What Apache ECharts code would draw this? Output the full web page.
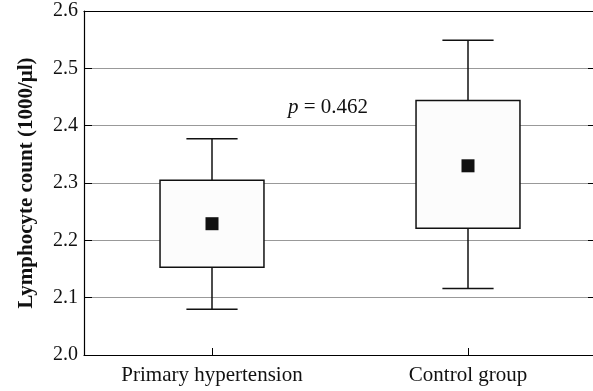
<!DOCTYPE html>
<html>
<head>
<meta charset="utf-8">
<script src="https://cdn.jsdelivr.net/npm/echarts@6/dist/echarts.min.js"></script>
<style>html,body{margin:0;padding:0;background:#fff;}#c{width:593px;height:391px;}</style>
</head>
<body>
<div id="c"></div>
<script>
var categories = ['Primary hypertension', 'Control group'];
var whiskerLow = [2.080, 2.116];
var boxLow = [2.153, 2.221];
var boxHigh = [2.305, 2.444];
var whiskerHigh = [2.377, 2.549];
var means = [2.229, 2.330];
var yTicks = [2.0, 2.1, 2.2, 2.3, 2.4, 2.5, 2.6];
var pText = '0.462';

var FONT = '"Liberation Serif", "DejaVu Serif", serif';
var chart = echarts.init(document.getElementById('c'));

var boxData = categories.map(function (c, i) {
  return [i, whiskerLow[i], boxLow[i], boxHigh[i], whiskerHigh[i]];
});
var meanData = categories.map(function (c, i) { return [i, means[i]]; });

chart.setOption({
  animation: false,
  backgroundColor: '#fff',
  grid: { left: 84, top: 11, width: 512, height: 344, containLabel: false, outerBoundsMode: 'none' },
  xAxis: [{
    type: 'category',
    data: categories,
    axisLine: { lineStyle: { color: '#000', width: 1.2 } },
    axisTick: { show: true, inside: true, alignWithLabel: true, length: 7, lineStyle: { color: '#000' } },
    axisLabel: { fontFamily: FONT, fontSize: 21, color: '#111', margin: 10 },
    splitLine: { show: false }
  }, {
    type: 'category',
    position: 'top',
    data: categories,
    axisLine: { lineStyle: { color: '#000', width: 1.2 } },
    axisTick: { show: false },
    axisLabel: { show: false }
  }],
  yAxis: [{
    type: 'value',
    min: 2.0, max: 2.6, interval: 0.1,
    name: 'Lymphocyte count (1000/μl)',
    nameLocation: 'middle',
    nameGap: 47,
    nameRotate: 90,
    nameTextStyle: { fontFamily: FONT, fontSize: 21, fontWeight: 'bold', color: '#111' },
    axisLine: { show: true, lineStyle: { color: '#000', width: 1.2 } },
    axisTick: { show: true, inside: true, length: 8, lineStyle: { color: '#000' } },
    axisLabel: { fontFamily: FONT, fontSize: 20, color: '#111', margin: 6,
      formatter: function (v) { return v.toFixed(1); } },
    splitLine: { show: true, lineStyle: { color: '#999', width: 1 } }
  }, {
    type: 'value',
    position: 'right',
    min: 2.0, max: 2.6, interval: 0.1,
    axisLine: { show: true, lineStyle: { color: '#000', width: 1.2 } },
    axisTick: { show: true, inside: true, length: 8, lineStyle: { color: '#000' } },
    axisLabel: { show: false },
    splitLine: { show: false }
  }],
  series: [{
    type: 'custom',
    data: boxData,
    z: 3,
    renderItem: function (params, api) {
      var x = api.value(0);
      var band = api.size([1, 0])[0];
      var bw = band * 0.406;
      var cw = band * 0.2;
      var pLow = api.coord([x, api.value(1)]);
      var pQ1 = api.coord([x, api.value(2)]);
      var pQ3 = api.coord([x, api.value(3)]);
      var pHigh = api.coord([x, api.value(4)]);
      var cx = pLow[0];
      var ls = { stroke: '#111', lineWidth: 1.5 };
      return {
        type: 'group',
        children: [
          { type: 'line', shape: { x1: cx, y1: pHigh[1], x2: cx, y2: pQ3[1] }, style: ls },
          { type: 'line', shape: { x1: cx, y1: pQ1[1], x2: cx, y2: pLow[1] }, style: ls },
          { type: 'line', shape: { x1: cx - cw / 2, y1: pHigh[1], x2: cx + cw / 2, y2: pHigh[1] }, style: ls },
          { type: 'line', shape: { x1: cx - cw / 2, y1: pLow[1], x2: cx + cw / 2, y2: pLow[1] }, style: ls },
          { type: 'rect', shape: { x: cx - bw / 2, y: pQ3[1], width: bw, height: pQ1[1] - pQ3[1] },
            style: { fill: '#fcfcfc', stroke: '#111', lineWidth: 1.5 } }
        ]
      };
    }
  }, {
    type: 'scatter',
    data: meanData,
    z: 5,
    symbol: 'rect',
    symbolSize: 13,
    itemStyle: { color: '#111', opacity: 1 }
  }],
  graphic: [{
    type: 'text',
    x: 288,
    y: 107,
    style: {
      text: '{i|p} = ' + pText,
      fontFamily: FONT,
      fontSize: 21,
      fill: '#111',
      verticalAlign: 'middle',
      rich: { i: { fontFamily: FONT, fontStyle: 'italic', fontSize: 21, fill: '#111' } }
    }
  }]
});
</script>
</body>
</html>
